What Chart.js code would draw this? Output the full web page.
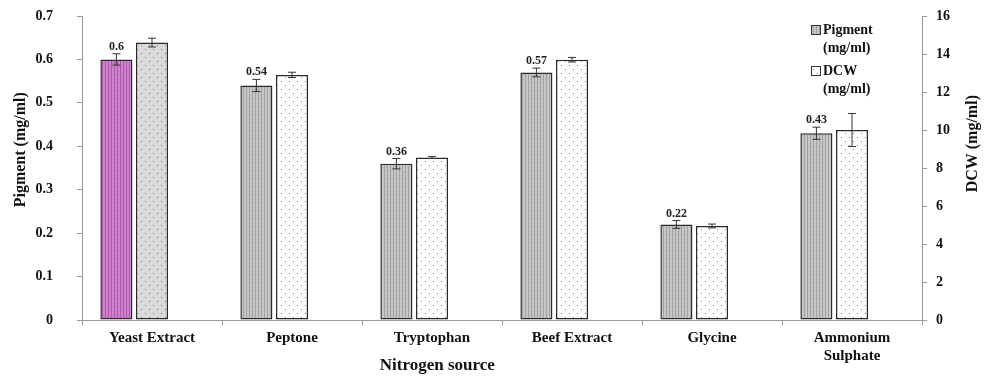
<!DOCTYPE html>
<html>
<head>
<meta charset="utf-8">
<script src="https://cdn.jsdelivr.net/npm/chart.js@4"></script>
<style>
  html, body { margin: 0; padding: 0; background: #ffffff; }
  #wrap { width: 984px; height: 379px; }
</style>
</head>
<body>
<div id="wrap"><canvas id="chart" width="984" height="379"></canvas></div>
<script>
// Nitrogen source screening: pigment yield (left axis) and dry cell weight (right axis)
const sources = ['Yeast Extract', 'Peptone', 'Tryptophan', 'Beef Extract', 'Glycine', ['Ammonium', 'Sulphate']];
const pigment = [0.60, 0.54, 0.36, 0.57, 0.22, 0.43];
const pigmentErr = [0.013, 0.014, 0.012, 0.010, 0.009, 0.014];
const dcw = [14.6, 12.9, 8.55, 13.7, 4.95, 10.0];
const dcwErr = [0.23, 0.14, 0.05, 0.12, 0.10, 0.87];
const pigmentTicks = { min: 0, max: 0.7, step: 0.1 };
const dcwTicks = { min: 0, max: 16, step: 2 };

const SERIF = '"Liberation Serif", "Times New Roman", serif';

// Fill patterns for the bars
function stripePattern(base, line) {
  const c = document.createElement('canvas');
  c.width = 3; c.height = 4;
  const g = c.getContext('2d');
  g.fillStyle = base; g.fillRect(0, 0, 3, 4);
  g.fillStyle = line; g.fillRect(0, 0, 1, 4);
  g.globalAlpha = 0.15; g.fillRect(0, 3, 3, 1);
  return g.createPattern(c, 'repeat');
}
function dotPattern(base, dot) {
  const c = document.createElement('canvas');
  c.width = 8; c.height = 8;
  const g = c.getContext('2d');
  g.fillStyle = base; g.fillRect(0, 0, 8, 8);
  g.fillStyle = dot;
  g.fillRect(1, 1, 1, 1);
  g.fillRect(5, 5, 1, 1);
  return g.createPattern(c, 'repeat');
}

const grayStripes = stripePattern('#c8c8c8', '#a2a2a2');
const purpleStripes = stripePattern('#d084d0', '#ad58ad');
const whiteDots = dotPattern('#ffffff', '#8a8a8a');
const greyDots = dotPattern('#dadada', '#7a7a7a');

const pigmentFill = pigment.map((v, i) => i === 0 ? purpleStripes : grayStripes);
const dcwFill = dcw.map((v, i) => i === 0 ? greyDots : whiteDots);

// Error bars and value labels on top of the bars
const errorBars = {
  id: 'errorBars',
  afterDatasetsDraw(chart) {
    const ctx = chart.ctx;
    const sets = [
      { idx: 0, vals: pigment, errs: pigmentErr, axis: 'y', label: true },
      { idx: 1, vals: dcw, errs: dcwErr, axis: 'y1', label: false }
    ];
    ctx.save();
    sets.forEach(s => {
      const meta = chart.getDatasetMeta(s.idx);
      const scale = chart.scales[s.axis];
      meta.data.forEach((bar, i) => {
        const x = bar.x;
        const yHi = scale.getPixelForValue(s.vals[i] + s.errs[i]);
        const yLo = scale.getPixelForValue(s.vals[i] - s.errs[i]);
        ctx.strokeStyle = '#333333';
        ctx.lineWidth = 1;
        ctx.beginPath();
        ctx.moveTo(x, yHi); ctx.lineTo(x, yLo);
        ctx.moveTo(x - 4, yHi); ctx.lineTo(x + 4, yHi);
        ctx.moveTo(x - 4, yLo); ctx.lineTo(x + 4, yLo);
        ctx.stroke();
        if (s.label) {
          ctx.fillStyle = '#222222';
          ctx.font = 'bold 12px ' + SERIF;
          ctx.textAlign = 'center';
          ctx.textBaseline = 'bottom';
          ctx.fillText(String(s.vals[i]), x, yHi - 1);
        }
      });
    });
    ctx.restore();
  }
};

// Axis titles and the legend box
const decorations = {
  id: 'decorations',
  afterDraw(chart) {
    const ctx = chart.ctx;
    const a = chart.chartArea;
    ctx.save();
    ctx.fillStyle = '#111111';
    ctx.textAlign = 'center';
    ctx.textBaseline = 'middle';
    ctx.font = 'bold 17px ' + SERIF;
    ctx.fillText('Nitrogen source', a.left + (a.right - a.left) * 0.423, 366);

    ctx.font = 'bold 16px ' + SERIF;
    ctx.save();
    ctx.translate(21, a.top + (a.bottom - a.top) * 0.44);
    ctx.rotate(-Math.PI / 2);
    ctx.fillText('Pigment (mg/ml)', 0, 0);
    ctx.restore();
    ctx.save();
    ctx.translate(973, a.top + (a.bottom - a.top) * 0.42);
    ctx.rotate(-Math.PI / 2);
    ctx.fillText('DCW (mg/ml)', 0, 0);
    ctx.restore();

    // legend
    const items = [
      { fill: grayStripes, lines: ['Pigment', '(mg/ml)'], y: 30 },
      { fill: whiteDots, lines: ['DCW', '(mg/ml)'], y: 71 }
    ];
    ctx.font = 'bold 14px ' + SERIF;
    ctx.textAlign = 'left';
    items.forEach(it => {
      ctx.fillStyle = it.fill;
      ctx.fillRect(812, it.y - 4, 8, 8);
      ctx.strokeStyle = '#333333';
      ctx.lineWidth = 1;
      ctx.strokeRect(811.5, it.y - 4.5, 9, 9);
      ctx.fillStyle = '#111111';
      ctx.fillText(it.lines[0], 823, it.y);
      ctx.fillText(it.lines[1], 823, it.y + 18);
    });
    ctx.restore();
  }
};

const tickFont = { family: SERIF, size: 14, weight: 'bold' };

// fixed axis band sizes; tick padding should not push the plot area down
function sideAxisFit(width) {
  return s => { s.width = width; s.paddingTop = 0; s.paddingBottom = 0; };
}

new Chart(document.getElementById('chart'), {
  type: 'bar',
  data: {
    labels: sources,
    datasets: [
      {
        label: 'Pigment (mg/ml)',
        data: pigment,
        yAxisID: 'y',
        backgroundColor: pigmentFill,
        borderColor: '#2b2b2b',
        borderWidth: 1.5,
        borderSkipped: false
      },
      {
        label: 'DCW (mg/ml)',
        data: dcw,
        yAxisID: 'y1',
        backgroundColor: dcwFill,
        borderColor: '#2b2b2b',
        borderWidth: 1.5,
        borderSkipped: false
      },
      {
        // empty slot that keeps the pair of bars left of each category centre
        label: '',
        data: sources.map(() => null),
        yAxisID: 'y'
      }
    ]
  },
  options: {
    responsive: false,
    animation: false,
    layout: { padding: { top: 16, left: 0, right: 0, bottom: 0 } },
    categoryPercentage: 0.763,
    barPercentage: 0.9,
    plugins: {
      legend: { display: false },
      tooltip: { enabled: false }
    },
    scales: {
      x: {
        grid: { display: true, drawOnChartArea: false, tickLength: 5, color: '#9a9a9a', offset: true },
        border: { color: '#9a9a9a', width: 1 },
        ticks: { font: { family: SERIF, size: 15, weight: 'bold' }, color: '#111111', padding: 4, maxRotation: 0, autoSkip: false },
        afterFit(s) { s.height = 59; }
      },
      y: {
        position: 'left',
        min: pigmentTicks.min,
        max: pigmentTicks.max,
        grid: { display: true, drawOnChartArea: false, tickLength: 5, color: '#9a9a9a' },
        border: { color: '#9a9a9a', width: 1 },
        ticks: { stepSize: pigmentTicks.step, font: tickFont, color: '#111111', padding: 24 },
        afterFit: sideAxisFit(82)
      },
      y1: {
        position: 'right',
        min: dcwTicks.min,
        max: dcwTicks.max,
        grid: { display: true, drawOnChartArea: false, tickLength: 5, color: '#9a9a9a' },
        border: { color: '#9a9a9a', width: 1 },
        ticks: { stepSize: dcwTicks.step, font: tickFont, color: '#111111', padding: 9 },
        afterFit: sideAxisFit(62)
      }
    }
  },
  plugins: [errorBars, decorations]
});
</script>
</body>
</html>
